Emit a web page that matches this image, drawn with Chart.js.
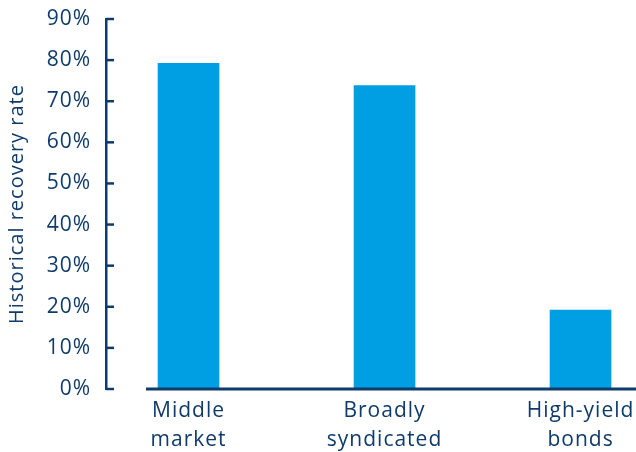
<!DOCTYPE html>
<html>
<head>
<meta charset="utf-8">
<script src="https://cdn.jsdelivr.net/npm/chart.js@4/dist/chart.umd.min.js"></script>
<style>
  html, body { margin: 0; padding: 0; background: #ffffff; }
  #wrap { width: 636px; height: 452px; position: relative; }
</style>
</head>
<body>
<div id="wrap"><canvas id="chart" width="636" height="452"></canvas></div>
<script>
// Recovery rates by debt segment
const categories = [["Middle", "market"], ["Broadly", "syndicated"], ["High-yield", "bonds"]];
const recoveryRates = [79.2, 73.8, 19.2];
const yTicks = [0, 10, 20, 30, 40, 50, 60, 70, 80, 90];

const NAVY = '#0f3b6b';
const BAR_BLUE = '#009fe3';
const FONT = '"Open Sans", "Noto Sans", sans-serif';

// Slightly open letter spacing for all chart text
const textSpacing = {
  id: 'textSpacing',
  beforeUpdate(chart) { chart.ctx.letterSpacing = '1px'; },
  beforeDraw(chart) { chart.ctx.letterSpacing = '1px'; }
};

// Short inward tick marks on the value axis and a detached baseline under the bars
const axisDecor = {
  id: 'axisDecor',
  afterDraw(chart) {
    const { ctx, chartArea, scales } = chart;
    const y = scales.y;
    ctx.save();
    ctx.strokeStyle = NAVY;
    ctx.lineWidth = 2.5;
    y.ticks.forEach(t => {
      const py = y.getPixelForValue(t.value);
      ctx.beginPath();
      ctx.moveTo(chartArea.left, py);
      ctx.lineTo(chartArea.left + 8, py);
      ctx.stroke();
    });
    const base = y.getPixelForValue(0);
    ctx.lineWidth = 3;
    ctx.beginPath();
    ctx.moveTo(chartArea.left + 40, base);
    ctx.lineTo(chartArea.right, base);
    ctx.stroke();
    ctx.restore();
  }
};

new Chart(document.getElementById('chart'), {
  type: 'bar',
  data: {
    datasets: [{
      data: recoveryRates.map((v, i) => ({ x: i, y: v })),
      backgroundColor: BAR_BLUE,
      borderWidth: 0,
      barThickness: 61
    }]
  },
  options: {
    responsive: false,
    animation: false,
    layout: { padding: { top: 19, right: 0, left: 0, bottom: 0 } },
    plugins: { legend: { display: false }, tooltip: { enabled: false } },
    scales: {
      x: {
        type: 'linear',
        offset: false,
        min: -0.421,
        max: 2.283,
        afterBuildTicks: axis => { axis.ticks = categories.map((c, i) => ({ value: i })); },
        afterFit: s => { s.height = 63; s.paddingLeft = 0; s.paddingRight = 0; },
        grid: { display: false, drawTicks: false },
        border: { display: false },
        ticks: {
          color: NAVY,
          font: { family: FONT, size: 21, lineHeight: 1.4 },
          padding: 7,
          maxRotation: 0,
          autoSkip: false,
          callback: v => categories[v]
        }
      },
      y: {
        min: 0,
        max: 90,
        afterBuildTicks: axis => { axis.ticks = yTicks.map(v => ({ value: v })); },
        afterFit: s => { s.width = 106; s.paddingTop = 0; },
        grid: { display: false, drawTicks: false },
        border: { display: true, color: NAVY, width: 2.5 },
        ticks: {
          color: NAVY,
          font: { family: FONT, size: 21 },
          padding: 15,
          callback: v => v + '%'
        },
        title: {
          display: true,
          text: 'Historical recovery rate',
          color: NAVY,
          font: { family: FONT, size: 20 },
          padding: { top: 5, bottom: 4 }
        }
      }
    }
  },
  plugins: [textSpacing, axisDecor]
});
</script>
</body>
</html>
